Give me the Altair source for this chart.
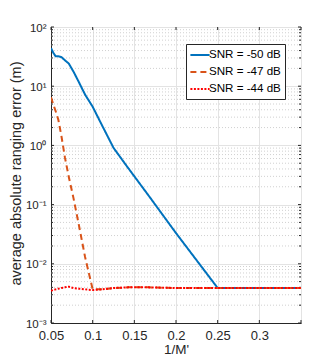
import altair as alt
import pandas as pd

# ---- data ----
x_vals = [1/20, 1/19, 1/18, 1/17, 1/16, 1/15, 1/14, 1/13, 1/12, 1/11, 1/10,
          1/9, 1/8, 1/7, 1/6, 1/5, 1/4, 1/3, 0.35]

snr50 = [44, 37, 32, 32, 31, 27.5, 24, 17.7, 11.8, 7.2, 4.5,
         2.2, 0.91, 0.41, 0.145, 0.033, 0.0039, 0.0039, 0.0039]
snr47 = [6.5, 5.0, 3.8, 2.7, 1.44, 0.63, 0.29, 0.13, 0.046, 0.013, 0.0037,
         0.0037, 0.0039, 0.0040, 0.0040, 0.0039, 0.0039, 0.0039, 0.0039]
snr44 = [0.0035, 0.0036, 0.0037, 0.0038, 0.0039, 0.0040, 0.0041, 0.0039, 0.0038,
         0.0037, 0.0036, 0.0037, 0.0039, 0.0040, 0.0040, 0.0039, 0.0039, 0.0039, 0.0039]

series_names = ["SNR = -50 dB", "SNR = -47 dB", "SNR = -44 dB"]
series_colors = ["#0072BD", "#D95319", "#FF0000"]
series_dashes = [[1, 0], [6, 4], [2, 1.5]]

x_ticks = [0.05, 0.1, 0.15, 0.2, 0.25, 0.3, 0.35]
y_major = [0.001, 0.01, 0.1, 1, 10, 100]
y_minor = [m * d for d in [0.001, 0.01, 0.1, 1, 10] for m in range(2, 10)]

rows = []
for name, ys in zip(series_names, [snr50, snr47, snr44]):
    for xv, yv in zip(x_vals, ys):
        rows.append({"x": xv, "y": yv, "series": name})
df = pd.DataFrame(rows)

W, H = 250, 296
ink = "#262626"

xscale = alt.Scale(domain=[0.05, 0.35], nice=False, zero=False)
yscale = alt.Scale(type="log", domain=[0.001, 100], nice=False)

ylabel_expr = ("datum.value < 0.002 ? '10⁻³' : datum.value < 0.02 ? '10⁻²' : "
               "datum.value < 0.2 ? '10⁻¹' : datum.value < 2 ? '10⁰' : "
               "datum.value < 20 ? '10¹' : '10²'")

x_axis = alt.Axis(values=x_ticks, title="1/M'", grid=True,
                  gridColor="#e3e3e3", ticks=False, labelPadding=6,
                  labelFontSize=13, labelFlush=False,
                  labelExpr="datum.value > 0.34 ? '' : format(datum.value, '~g')",
                  titlePadding=0, titleFontSize=13.5)
y_axis = alt.Axis(values=y_major, title="average absolute ranging error (m)",
                  grid=True, gridColor="#e3e3e3", ticks=False, labelPadding=5,
                  labelFontSize=11.5, labelFlush=False, labelOffset=1,
                  labelExpr=ylabel_expr, titleFontSize=14.5,
                  titleX=-28, titleY=146, titleBaseline="bottom")

minor_grid = alt.Chart(pd.DataFrame({"y": y_minor})).mark_rule(
    color="#d0d0d0", strokeDash=[1, 2], strokeWidth=1
).encode(y=alt.Y("y:Q", scale=yscale, axis=y_axis))

legend = alt.Legend(title=None, orient="none", legendX=135, legendY=17,
                    strokeColor=ink, fillColor="white", padding=4,
                    symbolType="M-1.6,0H1.6", symbolSize=144, symbolOffset=3,
                    symbolStrokeWidth=2, labelFontSize=11.6,
                    labelColor="black", labelOffset=2, rowPadding=4)

lines = alt.Chart(df).mark_line(strokeWidth=2, clip=True).encode(
    x=alt.X("x:Q", scale=xscale, axis=x_axis),
    y=alt.Y("y:Q", scale=yscale, axis=y_axis),
    color=alt.Color("series:N",
                    scale=alt.Scale(domain=series_names, range=series_colors),
                    legend=legend),
    strokeDash=alt.StrokeDash("series:N",
                              scale=alt.Scale(domain=series_names, range=series_dashes),
                              legend=legend),
    detail="series:N",
)

xt_df = pd.DataFrame({"x": x_ticks})
yt_df = pd.DataFrame({"y": y_major})
ym_df = pd.DataFrame({"y": y_minor})

tick_bot = alt.Chart(xt_df).mark_rule(color=ink).encode(
    x=alt.X("x:Q", scale=xscale, axis=x_axis), y=alt.value(H), y2=alt.value(H - 3))
tick_top = alt.Chart(xt_df).mark_rule(color=ink).encode(
    x=alt.X("x:Q", scale=xscale, axis=x_axis), y=alt.value(0), y2=alt.value(3))
tick_left = alt.Chart(yt_df).mark_rule(color=ink).encode(
    y=alt.Y("y:Q", scale=yscale, axis=y_axis), x=alt.value(0), x2=alt.value(3))
tick_right = alt.Chart(yt_df).mark_rule(color=ink).encode(
    y=alt.Y("y:Q", scale=yscale, axis=y_axis), x=alt.value(W), x2=alt.value(W - 3))
mtick_left = alt.Chart(ym_df).mark_rule(color=ink).encode(
    y=alt.Y("y:Q", scale=yscale, axis=y_axis), x=alt.value(0), x2=alt.value(2))
mtick_right = alt.Chart(ym_df).mark_rule(color=ink).encode(
    y=alt.Y("y:Q", scale=yscale, axis=y_axis), x=alt.value(W), x2=alt.value(W - 2))

chart = alt.layer(
    minor_grid, tick_bot, tick_top, tick_left, tick_right, mtick_left, mtick_right, lines
).properties(
    width=W, height=H,
    autosize=alt.AutoSizeParams(type="none"),
    padding={"left": 43, "top": 19, "right": 20, "bottom": 33},
).configure(
    font="Liberation Sans",
).configure_view(
    stroke=ink, strokeWidth=1,
).configure_axis(
    domainColor=ink, labelColor=ink, titleColor=ink,
    titleFontWeight="normal",
)

chart.save("out.html", embed_options={"renderer": "svg", "actions": False})
